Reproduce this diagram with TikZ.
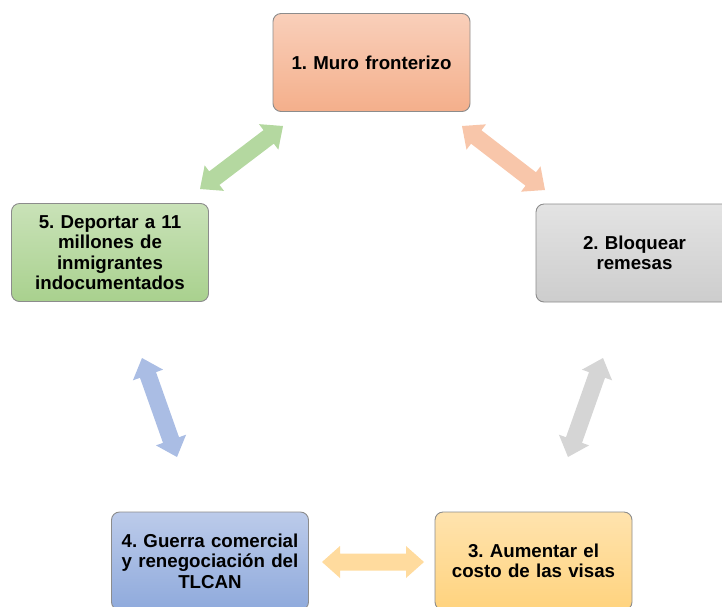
\documentclass[tikz,border=0pt]{standalone}
\usepackage{fontspec}
\setmainfont{Liberation Sans}
\usetikzlibrary{calc}
\definecolor{oTop}{HTML}{F9CFBA}\definecolor{oBot}{HTML}{F4AF8B}
\definecolor{gTop}{HTML}{C9E2B8}\definecolor{gBot}{HTML}{A9D18E}
\definecolor{sTop}{HTML}{E3E3E3}\definecolor{sBot}{HTML}{CDCDCD}
\definecolor{bTop}{HTML}{BCCBEA}\definecolor{bBot}{HTML}{8FAADC}
\definecolor{yTop}{HTML}{FFE3AE}\definecolor{yBot}{HTML}{FFD37E}
\definecolor{gArr}{HTML}{B4D8A0}\definecolor{oArr}{HTML}{F8C6AA}
\definecolor{bArr}{HTML}{AABDE4}\definecolor{sArr}{HTML}{D5D5D5}
\definecolor{yArr}{HTML}{FFDB9E}
\newcommand\blockarrow[3]{%
  \fill[#1] (#2) -- ($(#2)!18pt!(#3)!16pt!90:(#3)$) -- ($(#2)!18pt!(#3)!8.5pt!90:(#3)$)
   -- ($(#3)!18pt!(#2)!8.5pt!-90:(#2)$) -- ($(#3)!18pt!(#2)!16pt!-90:(#2)$) -- (#3)
   -- ($(#3)!18pt!(#2)!16pt!90:(#2)$) -- ($(#3)!18pt!(#2)!8.5pt!90:(#2)$)
   -- ($(#2)!18pt!(#3)!8.5pt!-90:(#3)$) -- ($(#2)!18pt!(#3)!16pt!-90:(#3)$) -- cycle;}
\tikzset{
  box/.style={draw=black!45, line width=0.9pt, rounded corners=8pt, minimum width=197pt,
    minimum height=98pt, inner sep=0pt, align=center, text width=190pt,
    font=\fontsize{18.7}{20.5}\selectfont\bfseries\frenchspacing},
}
\begin{document}
\begin{tikzpicture}[x=1pt,y=-1pt]
\useasboundingbox (0,0) rectangle (722,606);
\clip (0,0) rectangle (722,606);
\node[box, top color=oTop, bottom color=oBot] (b1) at (371.5,62.5) {1. Muro fronterizo};
\node[box, top color=sTop, bottom color=sBot] (b2) at (634.5,253) {2. Bloquear\\remesas};
\node[box, top color=yTop, bottom color=yBot] (b3) at (533.5,561) {3. Aumentar el\\costo de las visas};
\node[box, top color=bTop, bottom color=bBot] (b4) at (210,561) {4. Guerra comercial\\y renegociación del\\TLCAN};
\node[box, top color=gTop, bottom color=gBot] (b5) at (110,252.5) {5. Deportar a 11\\millones de\\inmigrantes\\indocumentados};
\coordinate (g1) at (200,189); \coordinate (g2) at (283,126);
\coordinate (o1) at (462,126); \coordinate (o2) at (545,190);
\coordinate (s1) at (603,358); \coordinate (s2) at (568,457);
\coordinate (y1) at (322,562); \coordinate (y2) at (424,562);
\coordinate (u1) at (142,358); \coordinate (u2) at (177,457);
\blockarrow{gArr}{g1}{g2}
\blockarrow{oArr}{o1}{o2}
\blockarrow{sArr}{s1}{s2}
\blockarrow{yArr}{y1}{y2}
\blockarrow{bArr}{u1}{u2}
\end{tikzpicture}
\end{document}
